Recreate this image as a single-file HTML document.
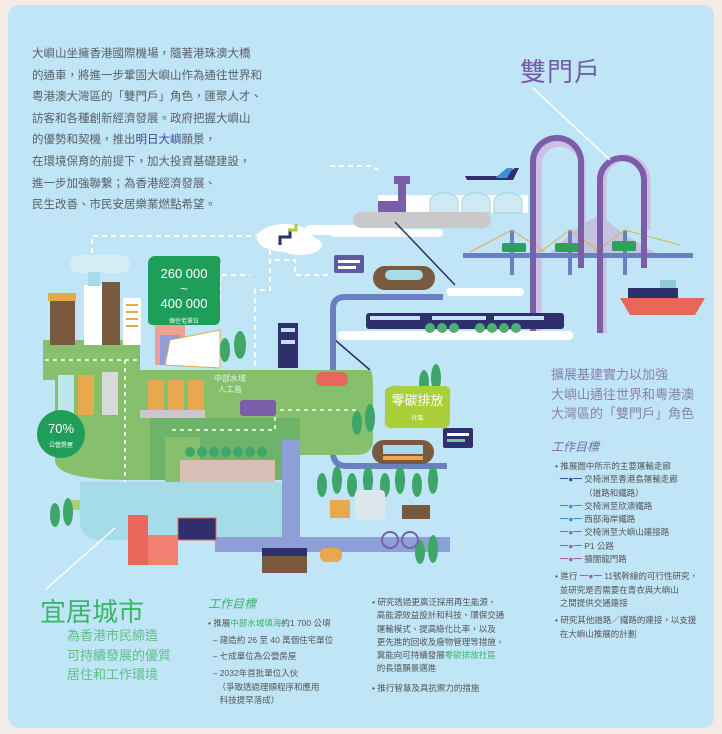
<!DOCTYPE html>
<html><head><meta charset="utf-8"><style>
body{margin:0;width:722px;height:734px;background:#f4ebe7;position:relative;overflow:hidden;font-family:"Liberation Sans","Noto Sans CJK TC",sans-serif}
#p{position:absolute;left:8px;top:5px;width:706px;height:723px;background:#bfe5f7;border-radius:11px}
.t{position:absolute;white-space:nowrap}
.t div{white-space:nowrap}
svg{position:absolute;left:0;top:0}
</style></head><body>
<div id="p"></div>
<svg width="722" height="734" viewBox="0 0 722 734">
<g fill="none" stroke="#fff" stroke-width="2" stroke-dasharray="5 4">
<path d="M92 262 V236 H250 Q258 236 262 232"/>
<path d="M330 166 H372 L378 170"/>
<path d="M270 250 V290 H255 V390"/>
<path d="M275 260 H295 V275 H330"/>
<path d="M220 300 V275 H250"/>
</g>
<ellipse cx="285" cy="238" rx="28" ry="14" fill="#fff"/>
<ellipse cx="300" cy="245" rx="22" ry="10" fill="#fff"/>
<path d="M280 245 v-8 h10 v-6" stroke="#2e2f6b" stroke-width="3" fill="none"/>
<path d="M288 230 h8 v-6" stroke="#a9cf3b" stroke-width="3" fill="none"/>
<rect x="70" y="255" width="60" height="18" rx="9" fill="#d5ecf7"/>
<rect x="305" y="225" width="90" height="10" rx="5" fill="#fff"/>
<path d="M538 338 V165 a22 22 0 0 1 44 0 V230" fill="none" stroke="#cdbfe3" stroke-width="7"/>
<path d="M603 333 V180 a22 22 0 0 1 44 0 V230" fill="none" stroke="#cdbfe3" stroke-width="7"/>
<path d="M545 258 L580 225 L600 215 L625 235 L660 255 Z" fill="#c5c4e0"/>
<rect x="463" y="253" width="230" height="5" fill="#6a7fc0"/>
<g stroke="#6a7fc0" stroke-width="4"><line x1="512" y1="230" x2="512" y2="275"/><line x1="570" y1="230" x2="570" y2="275"/><line x1="625" y1="230" x2="625" y2="275"/></g>
<g stroke="#e8a84d" stroke-width="1" fill="none"><path d="M470 252 L512 230 L545 252M540 252 L570 230 L600 252M595 252 L625 230 L680 245"/></g>
<g fill="#2ea05a"><rect x="502" y="243" width="24" height="9" rx="2"/><rect x="555" y="243" width="24" height="9" rx="2"/><rect x="612" y="241" width="24" height="10" rx="2"/></g>
<path d="M533 338 V162 a24 24 0 0 1 48 0 V268" fill="none" stroke="#7b5ea7" stroke-width="6"/>
<path d="M600 333 V180 a22 22 0 0 1 44 0 V268" fill="none" stroke="#7b5ea7" stroke-width="6"/>
<line x1="533" y1="88" x2="610" y2="160" stroke="#fff" stroke-width="1.5"/>
<path d="M465 176 h38 l12 -8 h4 l-6 12 h-46 z" fill="#2e2f6b"/>
<path d="M495 178 l12 -10 h6 l-6 10z" fill="#3b8fd6"/>
<path d="M620 298 H705 L695 315 H630 Z" fill="#e8675a"/>
<rect x="628" y="288" width="50" height="10" fill="#2e2f6b"/>
<rect x="660" y="280" width="16" height="8" fill="#8ec9d6"/>
<rect x="378" y="195" width="150" height="18" fill="#fff"/>
<g fill="#cfeaf3" stroke="#a0d4e2"><path d="M430 213 v-12 a14 8 0 0 1 28 0 v12z"/><path d="M462 213 v-12 a14 8 0 0 1 28 0 v12z"/><path d="M494 213 v-12 a14 8 0 0 1 28 0 v12z"/></g>
<rect x="398" y="182" width="8" height="24" fill="#7b5ea7"/><rect x="394" y="176" width="16" height="8" fill="#7b5ea7"/>
<rect x="378" y="201" width="28" height="12" fill="#7b5ea7"/>
<rect x="353" y="212" width="138" height="16" rx="8" fill="#c9c9cc"/>
<rect x="330" y="229" width="113" height="8" rx="4" fill="#fff"/>
<rect x="446" y="288" width="78" height="8" rx="4" fill="#fff"/>
<rect x="338" y="331" width="235" height="9" rx="4" fill="#fff"/>
<path d="M395 222 L455 285" stroke="#2e2f6b" stroke-width="1.5"/>
<path d="M335 340 L370 370" stroke="#2e2f6b" stroke-width="1.5"/>
<rect x="366" y="313" width="198" height="16" rx="3" fill="#2e2f6b"/>
<g fill="#bfe5f7"><rect x="370" y="316" width="50" height="4"/><rect x="432" y="316" width="54" height="4"/><rect x="494" y="316" width="50" height="4"/></g>
<g fill="#4fae73"><circle cx="430" cy="328" r="5"/><circle cx="442" cy="328" r="5"/><circle cx="454" cy="328" r="5"/><circle cx="480" cy="328" r="5"/><circle cx="492" cy="328" r="5"/><circle cx="504" cy="328" r="5"/><circle cx="516" cy="328" r="5"/></g>
<path d="M443 297 H345 Q333 297 333 309 V452 Q333 466 347 466 H447" fill="none" stroke="#6a7fc0" stroke-width="6"/>
<rect x="373" y="266" width="62" height="24" rx="12" fill="#7a5a3f"/><rect x="385" y="270" width="38" height="10" rx="5" fill="#a6dbe8"/>
<rect x="372" y="440" width="62" height="24" rx="12" fill="#7a5a3f"/><rect x="383" y="445" width="40" height="9" fill="#a6dbe8"/><rect x="383" y="456" width="40" height="4" fill="#e8a84d"/>
<rect x="334" y="255" width="30" height="18" rx="2" fill="#5d5aa0"/><rect x="338" y="260" width="22" height="3" fill="#fff"/><rect x="338" y="266" width="18" height="3" fill="#fff"/>
<rect x="443" y="428" width="30" height="20" rx="2" fill="#2e2f6b"/><rect x="447" y="433" width="22" height="3" fill="#fff"/><rect x="447" y="439" width="18" height="3" fill="#6fcf8d"/>
<path d="M43 340 H140 V380 H43 Z" fill="#86c06c"/>
<path d="M55 370 H370 Q373 370 373 390 V440 Q373 455 355 455 H300 V475 Q300 480 290 480 H130 Q55 480 55 460 Z" fill="#86c06c"/>
<path d="M150 418 H300 V480 H150 Z" fill="#6db36a"/>
<path d="M165 437 H200 V505 H165 Z" fill="#86c06c"/>
<path d="M65 500 H200 V510 H65 Z" fill="#a6cf7b"/>
<path d="M180 460 H275 V520 H180 Z" fill="#d8c0b6"/>
<g fill="none" stroke="#fff" stroke-width="1.5" stroke-dasharray="4 4"><path d="M45 360 H140"/><path d="M125 360 V500"/><path d="M80 505 H200"/><path d="M172 430 H275 V410 H360"/></g>
<g fill="#3fa66a"><circle cx="190" cy="452" r="5"/><circle cx="202" cy="452" r="5"/><circle cx="214" cy="452" r="5"/><circle cx="226" cy="452" r="5"/><circle cx="238" cy="452" r="5"/><circle cx="250" cy="452" r="5"/><circle cx="262" cy="452" r="5"/></g>
<path d="M80 482 H300 V530 Q300 540 290 540 H100 Q80 540 80 520 Z" fill="#a6dbe8"/>
<rect x="282" y="440" width="18" height="100" fill="#8d9fd6"/>
<rect x="215" y="537" width="235" height="15" fill="#8d9fd6"/>
<rect x="50" y="300" width="25" height="45" fill="#7a5a3f"/><rect x="48" y="293" width="28" height="8" fill="#e8a84d"/>
<rect x="84" y="285" width="18" height="60" fill="#fff"/><rect x="88" y="272" width="12" height="14" fill="#a6dbe8"/>
<rect x="102" y="282" width="18" height="63" fill="#7a5a3f"/>
<rect x="123" y="298" width="18" height="47" fill="#fff"/><g stroke="#e8a84d" stroke-width="2"><line x1="126" y1="305" x2="138" y2="305"/><line x1="126" y1="312" x2="138" y2="312"/><line x1="126" y1="319" x2="138" y2="319"/><line x1="126" y1="326" x2="138" y2="326"/></g>
<rect x="58" y="375" width="16" height="40" fill="#bde6ee"/><rect x="78" y="375" width="16" height="40" fill="#e8a84d"/><rect x="102" y="372" width="16" height="43" fill="#d9d9d9"/>
<rect x="148" y="380" width="16" height="30" fill="#e8a84d"/><rect x="168" y="380" width="16" height="30" fill="#e8a84d"/><rect x="188" y="380" width="16" height="30" fill="#e8a84d"/>
<rect x="140" y="410" width="65" height="8" fill="#c9c9cc"/>
<rect x="155" y="325" width="30" height="40" fill="#f0a090"/><rect x="160" y="335" width="20" height="30" fill="#8d9fd6"/>
<path d="M165 365 L170 340 L220 330 L220 368 Z" fill="#fff" stroke="#e8a84d"/>
<rect x="278" y="323" width="20" height="45" fill="#2e2f6b"/><rect x="281" y="328" width="14" height="4" fill="#bfe5f7"/><rect x="281" y="340" width="14" height="4" fill="#bfe5f7"/>
<rect x="316" y="372" width="32" height="14" rx="6" fill="#e8675a"/>
<rect x="240" y="400" width="36" height="16" rx="3" fill="#7b5ea7"/>
<g fill="#3fa66a"><ellipse cx="225" cy="350" rx="5" ry="12"/><ellipse cx="240" cy="345" rx="6" ry="14"/><ellipse cx="424" cy="383" rx="5" ry="13"/><ellipse cx="436" cy="378" rx="5" ry="14"/><ellipse cx="357" cy="423" rx="5" ry="12"/><ellipse cx="370" cy="418" rx="5" ry="14"/><ellipse cx="55" cy="515" rx="5" ry="12"/><ellipse cx="68" cy="512" rx="5" ry="14"/><ellipse cx="420" cy="552" rx="5" ry="12"/><ellipse cx="433" cy="549" rx="5" ry="14"/>
<ellipse cx="322" cy="485" rx="5" ry="12"/><ellipse cx="337" cy="480" rx="5" ry="14"/><ellipse cx="352" cy="485" rx="5" ry="12"/><ellipse cx="368" cy="480" rx="5" ry="14"/><ellipse cx="385" cy="485" rx="5" ry="12"/><ellipse cx="400" cy="480" rx="5" ry="14"/><ellipse cx="417" cy="485" rx="5" ry="12"/><ellipse cx="433" cy="480" rx="5" ry="14"/></g>
<rect x="128" y="515" width="20" height="50" fill="#e8675a"/><rect x="148" y="535" width="30" height="30" fill="#f08070"/>
<rect x="178" y="518" width="38" height="22" fill="#2e2f6b" stroke="#e8675a"/>
<rect x="262" y="548" width="45" height="25" fill="#7a5a3f"/><rect x="262" y="548" width="45" height="8" fill="#2e2f6b"/>
<rect x="330" y="500" width="20" height="18" fill="#e8a84d"/>
<rect x="355" y="490" width="30" height="30" rx="4" fill="#dde8ec"/>
<circle cx="390" cy="540" r="8" fill="none" stroke="#7b5ea7" stroke-width="2"/><circle cx="410" cy="540" r="8" fill="none" stroke="#7b5ea7" stroke-width="2"/>
<rect x="402" y="505" width="28" height="14" fill="#7a5a3f"/>
<rect x="320" y="548" width="22" height="14" rx="6" fill="#e8a84d"/>
<line x1="45" y1="590" x2="115" y2="528" stroke="#fff" stroke-width="1.5"/>
<path d="M148 262 Q150 255 158 256 H215 Q222 256 220 264 V318 Q220 326 212 325 H155 Q147 326 148 318Z" fill="#1f9e5a"/>
<circle cx="61" cy="434" r="24" fill="#1f9e5a"/>
<path d="M385 390 Q392 384 400 386 H445 Q452 387 450 395 V420 Q450 430 440 428 H392 Q383 428 385 418Z" fill="#a9cf3b"/>
</svg>
<div class="t" style="left:158px;top:266px;color:#fff;font-size:13px;line-height:15px;text-align:center;width:52px">260 000<br>~<br>400 000<br><span style="font-size:6px">個住宅單位</span></div>
<div class="t" style="left:43px;top:422px;color:#fff;font-size:13px;text-align:center;width:36px;line-height:14px">70%<br><span style="font-size:6px">公營房屋</span></div>
<div class="t" style="left:390px;top:393px;color:#fff;font-size:13px;text-align:center;width:55px;line-height:15px">零碳排放<br><span style="font-size:6px">社區</span></div>
<div class="t" style="left:214px;top:373px;color:#e6f5e6;font-size:8px;text-align:center;line-height:11px">中部水域<br>人工島</div>
<div class="t" style="left:32px;top:44px;color:#5a5f66;font-size:11.5px;line-height:21.6px">大嶼山坐擁香港國際機場，隨著港珠澳大橋<br>的通車，將進一步鞏固大嶼山作為通往世界和<br>粵港澳大灣區的「雙門戶」角色，匯聚人才、<br>訪客和各種創新經濟發展。政府把握大嶼山<br>的優勢和契機，推出<b style="color:#3a4aa0;font-weight:normal">明日大嶼</b>願景，<br>在環境保育的前提下，加大投資基礎建設，<br>進一步加強聯繫；為香港經濟發展、<br>民生改善、市民安居樂業燃點希望。</div>
<div class="t" style="left:520px;top:52px;color:#7a5aa6;font-size:26px;letter-spacing:1px">雙門戶</div>
<div class="t" style="left:551px;top:365px;color:#8a80b0;font-size:13px;line-height:19.5px">擴展基建實力以加強<br>大嶼山通往世界和粵港澳<br>大灣區的「雙門戶」角色</div>
<div class="t" style="left:551px;top:438px;color:#7a6aa6;font-size:12px;font-style:italic">工作目標</div>
<div class="t" style="left:555px;top:460px;color:#555;font-size:8.5px;line-height:13.3px">
<div>• 推展圖中所示的主要運輸走廊</div>
<div><span style="color:#3b4fa0">&nbsp;&nbsp;━●━</span> 交椅洲至香港島運輸走廊</div>
<div><span style="visibility:hidden">&nbsp;&nbsp;━●━</span> （道路和鐵路）</div>
<div><span style="color:#3b8fd6">&nbsp;&nbsp;━●━</span> 交椅洲至欣澳鐵路</div>
<div><span style="color:#3b8fd6">&nbsp;&nbsp;━●━</span> 西部海岸鐵路</div>
<div><span style="color:#a060b0">&nbsp;&nbsp;━●━</span> 交椅洲至大嶼山連接路</div>
<div><span style="color:#a060b0">&nbsp;&nbsp;━●━</span> P1 公路</div>
<div><span style="color:#a060b0">&nbsp;&nbsp;━●━</span> 擴闊龍門路</div>
<div style="margin-top:4px">• 進行 <span style="color:#a060b0">━●━</span> 11號幹線的可行性研究，</div>
<div>&nbsp;&nbsp;並研究是否需要在青衣與大嶼山</div><div>&nbsp;&nbsp;之間提供交通連接</div>
<div style="margin-top:4px">• 研究其他道路／鐵路的連接，以支援</div><div>&nbsp;&nbsp;在大嶼山推展的計劃</div></div>
<div class="t" style="left:40px;top:592px;color:#3bb56a;font-size:26px">宜居城市</div>
<div class="t" style="left:67px;top:626px;color:#5fbf86;font-size:13px;line-height:19.5px">為香港市民締造<br>可持續發展的優質<br>居住和工作環境</div>
<div class="t" style="left:208px;top:595px;color:#3bb56a;font-size:12px;font-style:italic">工作目標</div>
<div class="t" style="left:208px;top:615px;color:#555;font-size:8.5px;line-height:16.5px">
<div>• 推展<span style="color:#3bb56a">中部水域填海</span>約1 700 公頃</div>
<div>&nbsp;&nbsp;– 建造約 26 至 40 萬個住宅單位</div>
<div>&nbsp;&nbsp;– 七成單位為公營房屋</div>
<div>&nbsp;&nbsp;– 2032年首批單位入伙</div>
<div style="line-height:13px">&nbsp;&nbsp;&nbsp;&nbsp;（爭取透過理順程序和應用</div>
<div style="line-height:13px">&nbsp;&nbsp;&nbsp;&nbsp;&nbsp;科技提早落成）</div></div>
<div class="t" style="left:372px;top:596px;color:#555;font-size:8.5px;line-height:13.3px">
<div>• 研究透過更廣泛採用再生能源、</div><div>&nbsp;&nbsp;高能源效益設計和科技、環保交通</div><div>&nbsp;&nbsp;運輸模式、提高綠化比率，以及</div><div>&nbsp;&nbsp;更先進的回收及廢物管理等措施，</div><div>&nbsp;&nbsp;冀能向可持續發展<span style="color:#3bb56a">零碳排放社區</span></div><div>&nbsp;&nbsp;的長遠願景邁進</div>
<div style="margin-top:6px">• 推行智慧及具抗禦力的措施</div></div>
</body></html>
